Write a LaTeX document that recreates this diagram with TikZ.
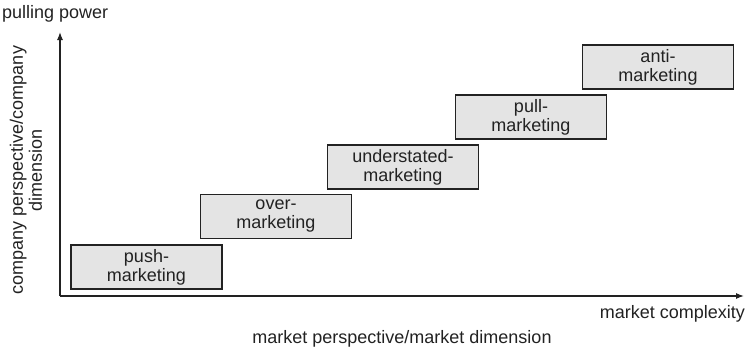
\documentclass[tikz,border=0pt]{standalone}
\usepackage{fontspec}
\setmainfont{Liberation Sans}
\usetikzlibrary{arrows.meta}
\definecolor{boxgray}{HTML}{E4E4E4}
\definecolor{ink}{HTML}{222222}
\tikzset{
  stage/.style={draw=ink, fill=boxgray, line width=1.2pt, minimum width=151pt,
    minimum height=44pt, align=center, inner sep=0pt,
    font=\fontsize{18}{19}\selectfont, text=ink},
  axis/.style={draw=ink, line width=1.2pt, -{Latex[length=8pt,width=6pt]}},
  lab/.style={font=\fontsize{18}{19}\selectfont, text=ink, inner sep=0pt}
}
\begin{document}
\begin{tikzpicture}[x=1pt,y=-1pt]
\useasboundingbox (0,0) rectangle (748,349);
% axes
\coordinate (o) at (60,296);
\coordinate (ytop) at (60,32);
\coordinate (xend) at (744,296);
\draw[axis] (o) -- (ytop);
\draw[axis] (o) -- (xend);
% axis labels
\node[lab, anchor=west] (yname) at (2,14) {pulling power};
\node[lab, anchor=east] (xname) at (745,314) {market complexity};
\node[lab] (xdim) at (402,339) {market perspective/market dimension};
\node[lab, rotate=90, align=center] (ydim) at (26,170) {company perspective/company\\dimension};
% stages
\node[stage] (push) at (146.5,267) {push-\\marketing};
\node[stage] (over) at (276,216.5) {over-\\marketing};
\node[stage] (under) at (403,167) {understated-\\marketing};
\node[stage] (pull) at (531,117) {pull-\\marketing};
\node[stage] (anti) at (658,67) {anti-\\marketing};
\end{tikzpicture}
\end{document}
